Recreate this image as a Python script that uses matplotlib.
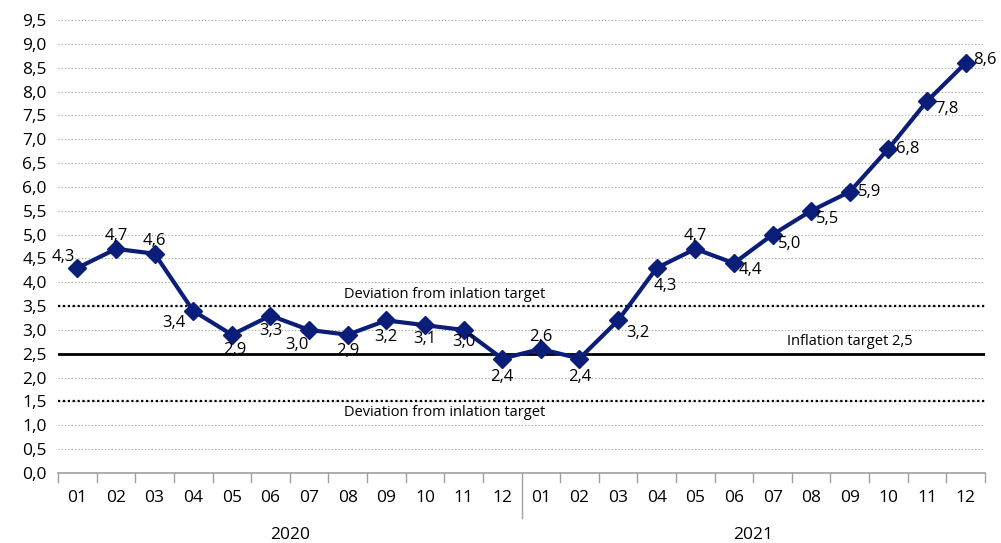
import numpy as np
import matplotlib.pyplot as plt

# ---------------- data ----------------
months = ['01', '02', '03', '04', '05', '06', '07', '08', '09', '10', '11', '12'] * 2
years = ['2020', '2021']
inflation = [4.3, 4.7, 4.6, 3.4, 2.9, 3.3, 3.0, 2.9, 3.2, 3.1, 3.0, 2.4,
             2.6, 2.4, 3.2, 4.3, 4.7, 4.4, 5.0, 5.5, 5.9, 6.8, 7.8, 8.6]
target = 2.5
band_hi = 3.5
band_lo = 1.5
yticks = np.arange(0, 9.51, 0.5)

# label offsets in points (dx, dy)
offs = [(-10, 8), (0, 9), (0, 9), (-14, -9), (2, -11), (0, -11), (-9, -11), (0, -12),
        (0, -12), (0, -10), (0, -9), (0, -13), (0, 9), (0, -13), (14, -9), (6, -13),
        (0, 9), (12, -5), (12, -7), (12, -6), (14, 0), (14, 0), (14, -6), (14, 2)]

plt.rcParams['font.family'] = ['Open Sans', 'DejaVu Sans']
col = '#0A1D78'

fig = plt.figure(figsize=(10.01, 5.43), dpi=100)
ax = fig.add_axes([0.058, 0.129, 0.926, 0.834])
x = np.arange(len(inflation))

for v in yticks:
    ax.axhline(v, color='#a0a0a0', lw=0.8, ls=(0, (1, 2)), zorder=1)
ax.axhline(band_hi, color='black', lw=1.6, ls=(0, (1, 1.2)), zorder=2)
ax.axhline(band_lo, color='black', lw=1.6, ls=(0, (1, 1.2)), zorder=2)
ax.axhline(target, color='black', lw=2, zorder=2)

ax.plot(x, inflation, color=col, lw=3, marker='D', ms=9, zorder=3)
for i, v in enumerate(inflation):
    ax.annotate(f'{v:.1f}'.replace('.', ','), (x[i], v), xytext=offs[i],
                textcoords='offset points', ha='center', va='center', fontsize=12)

ax.text(9.5, 3.58, 'Deviation from inlation target', ha='center', va='bottom', fontsize=10.5)
ax.text(9.5, 1.42, 'Deviation from inlation target', ha='center', va='top', fontsize=10.5)
ax.text(20, 2.6, 'Inflation target 2,5', ha='center', va='bottom', fontsize=10.5)

ax.set_xlim(-0.5, len(inflation) - 0.5)
ax.set_ylim(0, 9.5)
ax.set_yticks(yticks)
ax.set_yticklabels([f'{v:.1f}'.replace('.', ',') for v in yticks], fontsize=12.5)
ax.set_xticks(x)
ax.set_xticklabels(months, fontsize=12.5)
ax.tick_params(axis='x', length=0, pad=12)
ax.tick_params(axis='y', length=0, pad=8)
for s in ['top', 'right', 'left']:
    ax.spines[s].set_visible(False)
ax.spines['bottom'].set_color('#a0a0a0')
ax.spines['bottom'].set_linewidth(1.2)

# category boundary ticks and year labels
for b in np.arange(-0.5, len(inflation), 1.0):
    ln = 0.1 if b == 11.5 else 0.02
    ax.plot([b, b], [0, -ln], transform=ax.get_xaxis_transform(), color='#a0a0a0',
            lw=1, clip_on=False)
ax.text(5.5, -0.138, years[0], transform=ax.get_xaxis_transform(), ha='center', va='center', fontsize=12.5)
ax.text(17.5, -0.138, years[1], transform=ax.get_xaxis_transform(), ha='center', va='center', fontsize=12.5)

fig.savefig('out.png', dpi=100)
